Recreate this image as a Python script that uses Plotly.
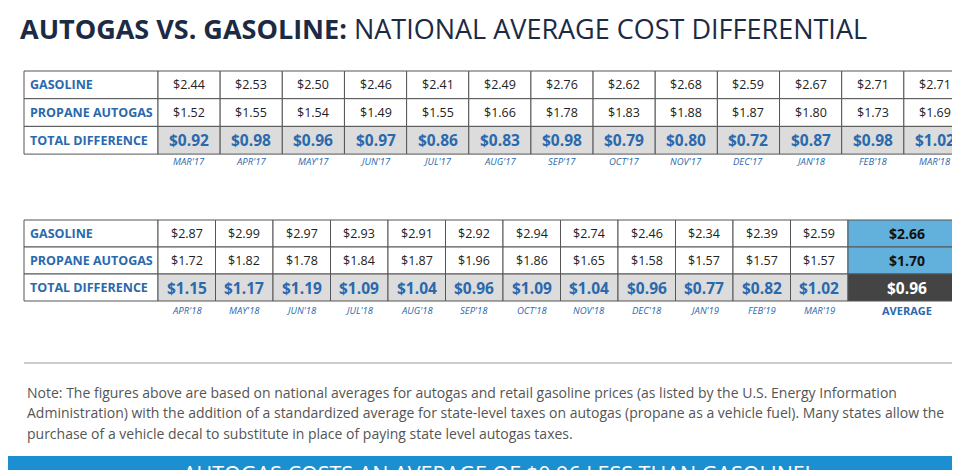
import plotly.graph_objects as go

months1 = ["MAR'17","APR'17","MAY'17","JUN'17","JUL'17","AUG'17","SEP'17","OCT'17","NOV'17","DEC'17","JAN'18","FEB'18","MAR'18"]
gas1 = [2.44,2.53,2.50,2.46,2.41,2.49,2.76,2.62,2.68,2.59,2.67,2.71,2.71]
prop1 = [1.52,1.55,1.54,1.49,1.55,1.66,1.78,1.83,1.88,1.87,1.80,1.73,1.69]
diff1 = [0.92,0.98,0.96,0.97,0.86,0.83,0.98,0.79,0.80,0.72,0.87,0.98,1.02]

months2 = ["APR'18","MAY'18","JUN'18","JUL'18","AUG'18","SEP'18","OCT'18","NOV'18","DEC'18","JAN'19","FEB'19","MAR'19"]
gas2 = [2.87,2.99,2.97,2.93,2.91,2.92,2.94,2.74,2.46,2.34,2.39,2.59]
prop2 = [1.72,1.82,1.78,1.84,1.87,1.96,1.86,1.65,1.58,1.57,1.57,1.57]
diff2 = [1.15,1.17,1.19,1.09,1.04,0.96,1.09,1.04,0.96,0.77,0.82,1.02]
avg = [2.66,1.70,0.96]

row_labels = ["GASOLINE","PROPANE AUTOGAS","TOTAL DIFFERENCE"]
BLUE = "#2a69ad"
FONT = "Open Sans"

fig = go.Figure()
shapes, ann = [], []

def cell(x0, x1, y0, y1, fill="white"):
    shapes.append(dict(type="rect", x0=x0, x1=x1, y0=y0, y1=y1, fillcolor=fill,
                       line=dict(color="#555555", width=1), layer="below"))

def txt(x, y, s, size=11, color="#222", bold=False, xanchor="center", italic=False, family=FONT):
    if bold: s = "<b>%s</b>" % s
    if italic: s = "<i>%s</i>" % s
    ann.append(dict(x=x, y=y, text=s, showarrow=False, xanchor=xanchor, yanchor="middle",
                    font=dict(size=size, color=color, family=family)))

def table(top, rows_h, months, rows, x_start, x_end, label_y, avg_vals=None, avg_w=118):
    ys = [top + i*rows_h for i in range(4)]
    data_end = x_end - (avg_w if avg_vals else 0)
    n = len(months)
    w = (data_end - x_start) / n
    for r in range(3):
        cell(8, x_start, ys[r], ys[r+1])
        txt(12, (ys[r]+ys[r+1])/2, row_labels[r], size=12.5, color=BLUE, bold=True, xanchor="left")
        for c in range(n):
            x0 = x_start + c*w
            fill = "#dcdcdc" if r == 2 else "white"
            cell(x0, x0+w, ys[r], ys[r+1], fill)
            v = "$%.2f" % rows[r][c]
            if r == 2:
                txt(x0+w/2, (ys[r]+ys[r+1])/2, v, size=15.5, color=BLUE, bold=True)
            else:
                txt(x0+w/2, (ys[r]+ys[r+1])/2, v, size=12.5, color="#222")
        if avg_vals:
            fill = "#444444" if r == 2 else "#62b0dc"
            cell(data_end, x_end, ys[r], ys[r+1], fill)
            txt((data_end+x_end)/2, (ys[r]+ys[r+1])/2, "$%.2f" % avg_vals[r], size=14 if r < 2 else 15.5,
                color="white" if r == 2 else "#111", bold=True)
    for c in range(n):
        txt(x_start + c*w + w/2, label_y, months[c], size=9.5, color=BLUE, italic=True)
    if avg_vals:
        txt((data_end+x_end)/2, label_y, "AVERAGE", size=11, color=BLUE, bold=True)

table(55, 27.7, months1, [gas1, prop1, diff1], 142, 950, 145)
table(204, 27, months2, [gas2, prop2, diff2], 142, 950, 294, avg_vals=avg)

txt(2, 12, "<b>AUTOGAS VS. GASOLINE:</b> NATIONAL AVERAGE COST DIFFERENTIAL", size=27,
    color="#1c2a44", xanchor="left")

shapes.append(dict(type="line", x0=8, x1=956, y0=347, y1=347, line=dict(color="#999", width=1)))
notes = ["Note: The figures above are based on national averages for autogas and retail gasoline prices (as listed by the U.S. Energy Information",
         "Administration) with the addition of a standardized average for state-level taxes on autogas (propane as a vehicle fuel). Many states allow the",
         "purchase of a vehicle decal to substitute in place of paying state level autogas taxes."]
for i, n in enumerate(notes):
    txt(9, 376 + i*20.5, n, size=14, color="#555", xanchor="left")

shapes.append(dict(type="rect", x0=-10, x1=970, y0=440, y1=480, fillcolor="#1b8fd0", line=dict(width=0)))
txt(480, 457, "AUTOGAS COSTS AN AVERAGE OF $0.96 LESS THAN GASOLINE!", size=21.5, color="white")

fig.update_layout(width=960, height=470, margin=dict(l=0, r=0, t=0, b=0),
                  paper_bgcolor="white", plot_bgcolor="white", shapes=shapes, annotations=ann,
                  xaxis=dict(range=[-8, 952], visible=False, fixedrange=True),
                  yaxis=dict(range=[462, -8], visible=False, fixedrange=True),
                  showlegend=False)
fig.write_html("out.html")
